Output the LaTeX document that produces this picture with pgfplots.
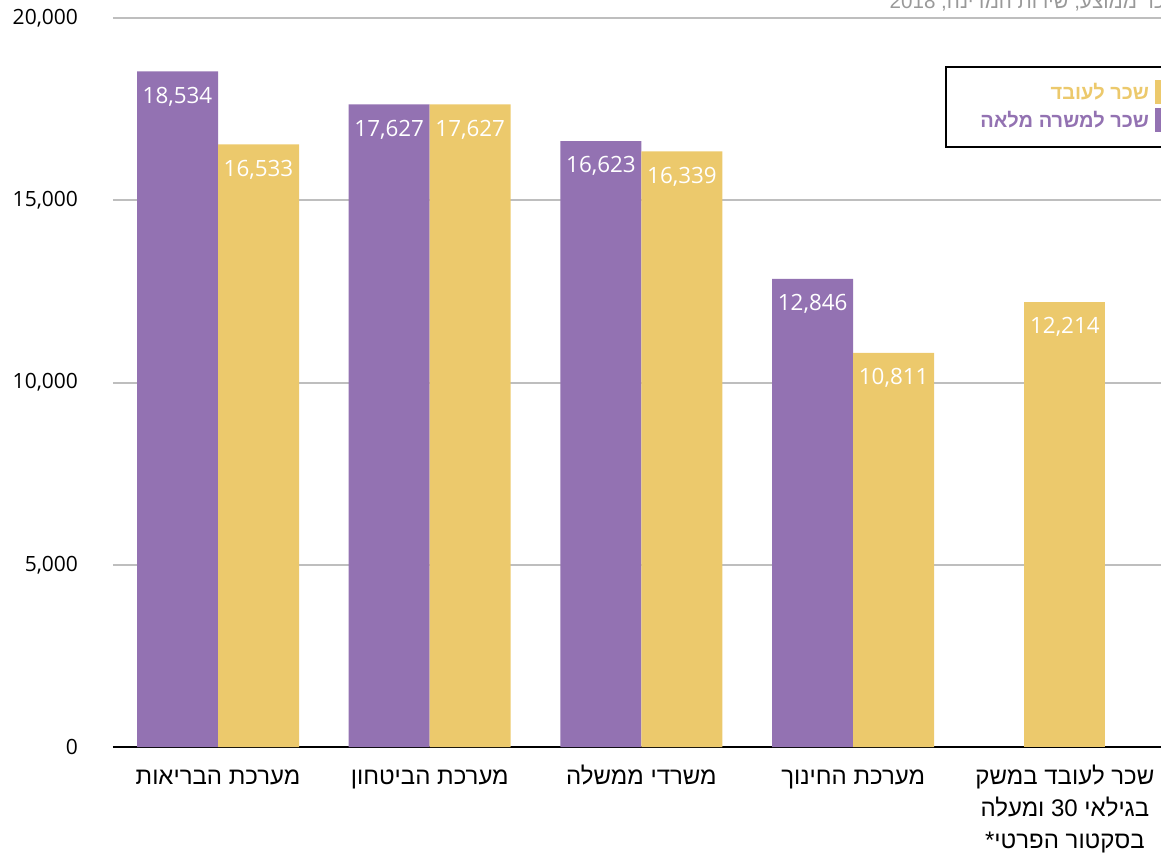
\documentclass[border=0pt]{standalone}
\usepackage{fontspec}
\setmainfont{Open Sans}
\newfontfamily\hebfont[Script=Hebrew]{Liberation Sans}
\usepackage{pgfplots}
\pgfplotsset{compat=1.18}
\TeXXeTstate=1
\definecolor{cpurple}{RGB}{147,114,178}
\definecolor{cyellow}{RGB}{236,201,108}
\definecolor{cgrid}{RGB}{190,190,190}
\begin{document}
\begin{tikzpicture}
\useasboundingbox (-56.5pt,-53pt) rectangle (524pt,373.5pt);
\begin{axis}[
 at={(0pt,0pt)}, anchor=south west,
 scale only axis, width=524pt, height=364.5pt,
 xmin=-0.496, xmax=4.454, ymin=0, ymax=20000,
 enlargelimits=false,
 axis line style={draw=none},
 ytick={0,5000,10000,15000,20000},
 scaled y ticks=false,
 ymajorgrids, grid style={cgrid, line width=1pt},
 major tick length=0pt,
 extra y ticks={0}, extra y tick labels={},
 extra y tick style={grid style={black, line width=1pt}},
 xtick={0,1,2,3,4},
 xticklabels={{\strut\beginR מערכת הבריאות\endR},{\strut\beginR מערכת הביטחון\endR},{\strut\beginR משרדי ממשלה\endR},{\strut\beginR מערכת החינוך\endR},{\strut\beginR שכר לעובד במשק\endR\\\beginR בגילאי 30 ומעלה\endR\\\beginR בסקטור הפרטי*\endR}},
 xticklabel style={font=\hebfont\fontsize{12}{16}\selectfont, align=center, anchor=north, yshift=-4pt},
 yticklabel style={font=\fontsize{10.5}{12}\selectfont, text=black, anchor=east, xshift=-14pt},
 nodes near coords,
 nodes near coords style={text=white, anchor=north, yshift=-4.2pt, font=\fontsize{11.2}{12}\selectfont},
 /pgf/number format/.cd, fixed, precision=0, 1000 sep={,}, assume math mode=true,
]
\addplot[ybar, bar width=40.5pt, bar shift=-20.25pt, fill=cpurple, draw=none, every node near coord/.append style={xshift=-20.25pt}] coordinates {(0,18534)(1,17627)(2,16623)(3,12846)};
\addplot[ybar, bar width=40.5pt, bar shift=20.25pt, fill=cyellow, draw=none, every node near coord/.append style={xshift=20.25pt}] coordinates {(0,16533)(1,17627)(2,16339)(3,10811)};
\addplot[ybar, bar width=40.5pt, bar shift=0pt, fill=cyellow, draw=none] coordinates {(4,12214)};
\end{axis}
\node[anchor=base east, text=gray!80, font=\hebfont\fontsize{10.3}{12}\selectfont, inner sep=0pt] at (533.5pt,369pt) {\beginR שכר ממוצע, שירות המדינה, 2018\endR};
\fill[white] (416.5pt,300pt) rectangle (530pt,340pt);
\draw[line width=0.6pt] (416.5pt,300pt) rectangle (530pt,340pt);
\fill[cyellow] (521pt,321.5pt) rectangle (525pt,333.5pt);
\fill[cpurple] (521pt,307.5pt) rectangle (525pt,319.5pt);
\node[anchor=east, text=cyellow, font=\hebfont\bfseries\fontsize{10}{12}\selectfont] at (521.5pt,327.5pt) {\beginR שכר לעובד\endR};
\node[anchor=east, text=cpurple, font=\hebfont\bfseries\fontsize{10}{12}\selectfont] at (521.5pt,313.5pt) {\beginR שכר למשרה מלאה\endR};
\end{tikzpicture}
\end{document}
